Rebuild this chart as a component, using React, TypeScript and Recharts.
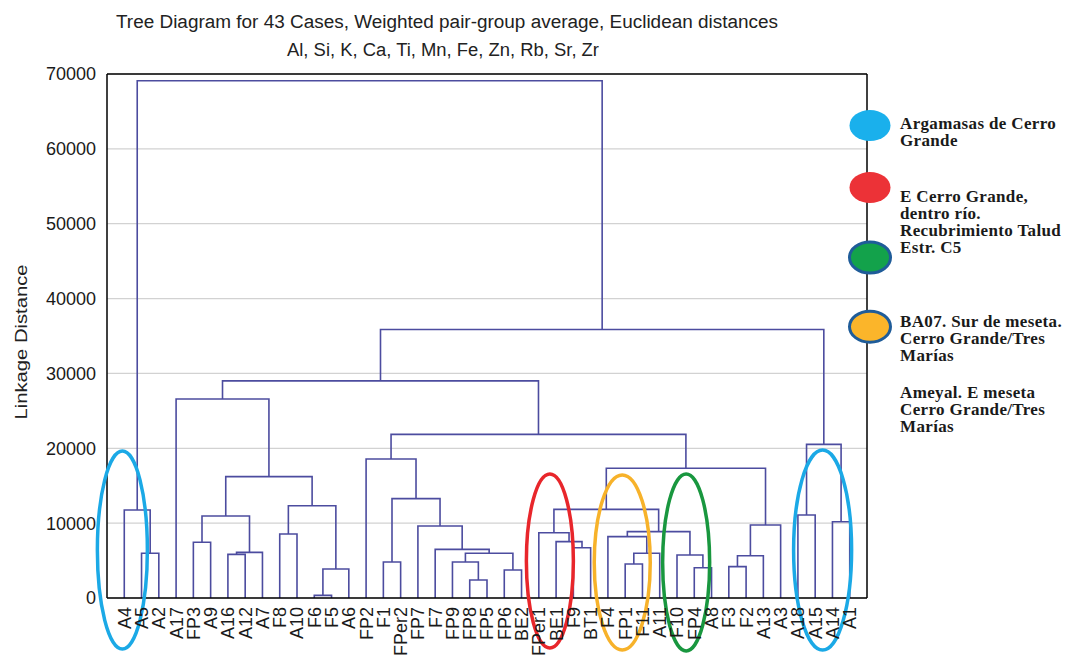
import React from 'react'
import {
  ComposedChart, Line, XAxis, YAxis, CartesianGrid, ReferenceDot,
} from 'recharts'

// leaf order along the bottom axis
const leaves = [
  'A4', 'A5', 'A2', 'A17', 'FP3', 'A9', 'A16', 'A12', 'A7', 'F8', 'A10', 'F6', 'F5', 'A6',
  'FP2', 'F1', 'FPer2', 'FP7', 'F7', 'FP9', 'FP8', 'FP5', 'FP6', 'BE2', 'FPer1', 'BE1', 'F9',
  'BT1', 'F4', 'FP1', 'F11', 'A11', 'F10', 'FP4', 'A8', 'F3', 'F2', 'A13', 'A3', 'A18', 'A15',
  'A14', 'A1',
]

// joins: [left, right, linkage distance]; 'cN' = cluster made by join N
const joins: [string, string, number][] = [
  ['F6', 'F5', 350],
  ['FP8', 'FP5', 2400],
  ['FP6', 'BE2', 3740],
  ['c0', 'A6', 3870],
  ['F3', 'F2', 4190],
  ['FP4', 'A8', 4050],
  ['FP1', 'F11', 4540],
  ['F1', 'FPer2', 4810],
  ['FP9', 'c1', 4810],
  ['A5', 'A2', 5970],
  ['c6', 'A11', 5970],
  ['c8', 'c2', 5970],
  ['F10', 'c5', 5740],
  ['c4', 'A13', 5650],
  ['A16', 'A12', 5830],
  ['c14', 'A7', 6100],
  ['F7', 'c11', 6500],
  ['F9', 'BT1', 6720],
  ['FP3', 'A9', 7440],
  ['BE1', 'c17', 7530],
  ['F4', 'c10', 8200],
  ['F8', 'A10', 8550],
  ['FPer1', 'c19', 8720],
  ['c20', 'c12', 8870],
  ['FP7', 'c16', 9620],
  ['c13', 'A3', 9750],
  ['A14', 'A1', 10190],
  ['c18', 'c15', 10950],
  ['A18', 'A15', 11090],
  ['A4', 'c9', 11760],
  ['c22', 'c23', 11840],
  ['c21', 'c3', 12330],
  ['c7', 'c24', 13270],
  ['c27', 'c31', 16210],
  ['c30', 'c25', 17330],
  ['FP2', 'c32', 18570],
  ['c28', 'c26', 20520],
  ['c35', 'c34', 21860],
  ['A17', 'c33', 26580],
  ['c38', 'c37', 29010],
  ['c39', 'c36', 35870],
  ['c29', 'c40', 69100],
]

const yTicks = [0, 10000, 20000, 30000, 40000, 50000, 60000, 70000]
const minorTicks = [
  0, 2500, 5000, 7500, 10000, 12500, 15000, 17500, 20000, 22500, 25000, 27500, 30000,
  32500, 35000, 37500, 40000, 42500, 45000, 47500, 50000, 52500, 55000, 57500, 60000,
  62500, 65000, 67500, 70000,
]
const leafTicks = leaves.map((_, i) => i + 1)

const legendItems = [
  { fill: '#1ab0ec', edge: null, lines: ['Argamasas de Cerro', 'Grande'] },
  { fill: '#ec3237', edge: null, lines: ['E Cerro Grande,', 'dentro río.', 'Recubrimiento Talud', 'Estr. C5'] },
  { fill: '#13a24b', edge: '#1f5c99', lines: [] as string[] },
  { fill: '#fbb52a', edge: '#1f5c99', lines: ['BA07. Sur de meseta.', 'Cerro Grande/Tres', 'Marías'] },
  { fill: null, edge: null, lines: ['Ameyal. E meseta', 'Cerro Grande/Tres', 'Marías'] },
]

// hand-drawn group ovals on the plot
const ovals = [
  { x: 0.89, y: 6400, rx: 25, ry: 99, color: '#1ba9e6' },
  { x: 25.64, y: 4940, rx: 23.5, ry: 87, color: '#e8262b' },
  { x: 29.83, y: 4750, rx: 28, ry: 87.5, color: '#f7b22a' },
  { x: 33.53, y: 4750, rx: 23.5, ry: 88.5, color: '#19973f' },
  { x: 41.43, y: 6400, rx: 29, ry: 100, color: '#1ba9e6' },
]

const pos: Record<string, { x: number; y: number }> = {}
leaves.forEach((l, i) => { pos[l] = { x: i + 1, y: 0 } })
const links = joins.map(([a, b, h], i) => {
  const A = pos[a]
  const B = pos[b]
  pos['c' + i] = { x: (A.x + B.x) / 2, y: h }
  return [
    { x: A.x, y: A.y },
    { x: A.x, y: h },
    { x: B.x, y: h },
    { x: B.x, y: B.y },
  ]
})

const SANS = 'Liberation Sans, Arial, sans-serif'
const SERIF = 'Liberation Serif, Times New Roman, serif'
const LINE = '#4c4c9f'

const LeafTick = ({ x, y, payload }: any) => (
  <text
    x={x} y={y} transform={`rotate(-90 ${x} ${y})`} textAnchor="end" dy="0.36em"
    fontSize={18} fontFamily={SANS} fill="#1a1a1a"
  >
    {leaves[payload.value - 1]}
  </text>
)

function Legend() {
  const rows = [
    { cy: 125.5, base: 129.3 },
    { cy: 187.5, base: 201.7 },
    { cy: 257.5, base: 0 },
    { cy: 326.7, base: 327.3 },
    { cy: 0, base: 398.3 },
  ]
  return (
    <g>
      {legendItems.map((it, i) => (
        <g key={i}>
          {it.fill && (
            <ellipse
              cx={870} cy={rows[i].cy} rx={20.5} ry={15.5} fill={it.fill}
              stroke={it.edge ?? 'none'} strokeWidth={it.edge ? 3 : 0}
            />
          )}
          {it.lines.map((t, j) => (
            <text
              key={j} x={900} y={rows[i].base + j * 17} fontFamily={SERIF} fontWeight="bold"
              fontSize={17} letterSpacing={0.35} fill="#1a1a1a"
            >
              {t}
            </text>
          ))}
        </g>
      ))}
    </g>
  )
}

export default function App() {
  return (
    <div style={{ position: 'absolute', left: 0, top: 0, width: 1065, height: 658, background: '#fff' }}>
      <ComposedChart width={1065} height={658} margin={{ top: 74, right: 198, left: 0, bottom: 0 }}>
        <CartesianGrid vertical={false} stroke="#d2d2d2" strokeWidth={1.2} />
        <XAxis
          dataKey="x" type="number" domain={[0, 44]} allowDataOverflow ticks={leafTicks} interval={0}
          tick={<LeafTick />} tickLine={false} tickSize={0} tickMargin={9} height={60}
          axisLine={{ stroke: '#000', strokeWidth: 1.5 }}
        />
        <XAxis
          xAxisId="top" orientation="top" mirror type="number" domain={[0, 44]} allowDataOverflow
          ticks={leafTicks} interval={0} tick={false} tickSize={4}
          tickLine={{ stroke: '#000' }} axisLine={{ stroke: '#000', strokeWidth: 1.5 }}
        />
        <YAxis
          type="number" domain={[0, 70000]} allowDataOverflow ticks={yTicks} interval={0} width={107}
          tickLine={false} tickSize={0} tickMargin={11}
          tick={{ fontSize: 18, fill: '#1a1a1a', fontFamily: SANS }}
          axisLine={{ stroke: '#000', strokeWidth: 1.5 }}
        />
        <YAxis
          yAxisId="minorL" mirror type="number" domain={[0, 70000]} allowDataOverflow
          ticks={minorTicks} interval={0} tick={false} tickSize={5} axisLine={false}
          tickLine={{ stroke: '#000' }}
        />
        <YAxis
          yAxisId="minorR" orientation="right" mirror type="number" domain={[0, 70000]} allowDataOverflow
          ticks={minorTicks} interval={0} tick={false} tickSize={5}
          tickLine={{ stroke: '#000' }} axisLine={{ stroke: '#000', strokeWidth: 1.5 }}
        />
        {links.map((d, i) => (
          <Line
            key={i} data={d} dataKey="y" type="linear" stroke={LINE} strokeWidth={1.6}
            dot={false} activeDot={false} isAnimationActive={false}
          />
        ))}
        {ovals.map((o, i) => (
          <ReferenceDot
            key={i} x={o.x} y={o.y} r={1} ifOverflow="visible"
            shape={(p: any) => (
              <ellipse cx={p.cx} cy={p.cy} rx={o.rx} ry={o.ry} fill="none" stroke={o.color} strokeWidth={3.5} />
            )}
          />
        ))}
      </ComposedChart>
      <svg width={1065} height={658} style={{ position: 'absolute', left: 0, top: 0, pointerEvents: 'none' }}>
        <text x={116} y={28} fontFamily={SANS} fontSize={18} fill="#222" textLength={662} lengthAdjust="spacingAndGlyphs">
          Tree Diagram for 43 Cases, Weighted pair-group average, Euclidean distances
        </text>
        <text x={287} y={56} fontFamily={SANS} fontSize={18} fill="#222" textLength={312} lengthAdjust="spacingAndGlyphs">
          Al, Si, K, Ca, Ti, Mn, Fe, Zn, Rb, Sr, Zr
        </text>
        <text
          x={27} y={342} transform="rotate(-90 27 342)" textAnchor="middle" fontFamily={SANS}
          fontSize={17} fill="#222" textLength={155} lengthAdjust="spacingAndGlyphs"
        >
          Linkage Distance
        </text>
        <Legend />
      </svg>
    </div>
  )
}
